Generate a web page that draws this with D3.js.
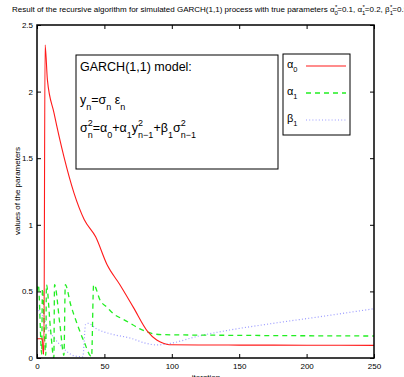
<!DOCTYPE html>
<html>
<head>
<meta charset="utf-8">
<script src="https://cdn.jsdelivr.net/npm/d3@7"></script>
<style>
  body { margin: 0; background: #fff; }
  svg { display: block; font-family: "Liberation Sans", Arial, Helvetica, sans-serif; }
</style>
</head>
<body>
<svg id="chart" width="404" height="377"></svg>
<script>
// values
var xTicks = [0, 50, 100, 150, 200, 250];
var yTicks = [0, 0.5, 1, 1.5, 2, 2.5];
var yTickLabels = ["0", "0.5", "1", "1.5", "2", "2.5"];

var alpha0Iter = [0, 4, 4.6, 5.1, 6, 7.7, 12.6, 20, 27.4, 35, 43.5, 52, 61.5, 71.5, 82, 88.8, 93.7, 98, 120, 150, 200, 250];
var alpha0Vals = [0.145, 0.145, 0.03, 0.03, 2.35, 2.09, 1.84, 1.51, 1.24, 1.04, 0.91, 0.7, 0.55, 0.38, 0.2, 0.135, 0.11, 0.1, 0.098, 0.097, 0.096, 0.095];

var alpha1Iter = [0, 1, 3.5, 4, 6.5, 7, 10, 12.5, 13, 17, 20, 21, 25, 30, 35, 40.5, 42, 47, 52, 57, 64, 71, 76, 82, 87, 95, 150, 250];
var alpha1Vals = [0.5, 0.55, 0.03, 0.52, 0.02, 0.55, 0.22, 0.0, 0.55, 0.25, 0.02, 0.55, 0.4, 0.25, 0.12, 0.01, 0.55, 0.43, 0.38, 0.33, 0.29, 0.25, 0.22, 0.195, 0.18, 0.175, 0.17, 0.165];

var beta1Iter = [0, 3, 5, 8, 12, 17, 22, 28, 34, 36, 38, 44, 55, 69, 81, 89, 99, 120, 143, 175, 210, 250];
var beta1Vals = [0.38, 0.33, 0.3, 0.22, 0.16, 0.1, 0.05, 0.015, 0.01, 0.25, 0.26, 0.22, 0.18, 0.15, 0.11, 0.098, 0.11, 0.165, 0.21, 0.26, 0.31, 0.37];

var svg = d3.select("#chart");
var pLeft = 37, pRight = 374, pTop = 25, pBottom = 358;

var x = d3.scaleLinear().domain([0, 250]).range([pLeft, pRight]);
var y = d3.scaleLinear().domain([0, 2.5]).range([pBottom, pTop]);

// title (runs off the right edge like the original)
var title = svg.append("text").attr("x", 12).attr("y", 12).attr("font-size", 8).attr("fill", "#000");
title.append("tspan").text("Result of the recursive algorithm for simulated GARCH(1,1) process with true parameters \u03b1");
title.append("tspan").attr("font-size", 6).attr("dy", 3).text("0");
title.append("tspan").attr("font-size", 6).attr("dy", -6).attr("dx", -3).text("*");
title.append("tspan").attr("dy", 3).text("=0.1, \u03b1");
title.append("tspan").attr("font-size", 6).attr("dy", 3).text("1");
title.append("tspan").attr("font-size", 6).attr("dy", -6).attr("dx", -3).text("*");
title.append("tspan").attr("dy", 3).text("=0.2, \u03b2");
title.append("tspan").attr("font-size", 6).attr("dy", 3).text("1");
title.append("tspan").attr("font-size", 6).attr("dy", -6).attr("dx", -3).text("*");
title.append("tspan").attr("dy", 3).text("=0.5");

// axes, ticks pointing inside
svg.append("g").attr("transform", "translate(0," + pBottom + ")")
    .call(d3.axisBottom(x).tickValues(xTicks).tickSize(-4).tickPadding(5).tickFormat(d3.format("d")));
svg.append("g").attr("transform", "translate(0," + pTop + ")")
    .call(d3.axisTop(x).tickValues(xTicks).tickSize(-4).tickFormat(""));
svg.append("g").attr("transform", "translate(" + pLeft + ",0)")
    .call(d3.axisLeft(y).tickValues(yTicks).tickSize(-4).tickPadding(4).tickFormat(function (d, i) { return yTickLabels[i] }));
svg.append("g").attr("transform", "translate(" + pRight + ",0)")
    .call(d3.axisRight(y).tickValues(yTicks).tickSize(-4).tickFormat(""));

svg.selectAll(".domain").remove();
svg.selectAll(".tick line").attr("stroke", "#000");
svg.selectAll(".tick text").attr("font-size", 8).attr("fill", "#000")
    .attr("font-family", "'Liberation Sans', Arial, Helvetica, sans-serif");

// labels
svg.append("text").attr("x", 206).attr("y", 380).attr("text-anchor", "middle")
    .attr("font-size", 8).text("iteration");
svg.append("text").attr("transform", "translate(20,191) rotate(-90)").attr("text-anchor", "middle")
    .attr("font-size", 8).text("values of the parameters");

// lines
svg.append("clipPath").attr("id", "plotclip").append("rect")
    .attr("x", pLeft).attr("y", pTop).attr("width", pRight - pLeft).attr("height", pBottom - pTop);
var plot = svg.append("g").attr("clip-path", "url(#plotclip)");

function makeSeries(iters, vals) {
    return iters.map(function (d, i) { return [d, vals[i]] });
}
var line = d3.line().curve(d3.curveMonotoneX)
    .x(function (d) { return x(d[0]) }).y(function (d) { return y(d[1]) });

plot.append("path").datum(makeSeries(beta1Iter, beta1Vals)).attr("d", line)
    .attr("fill", "none").attr("stroke", "#9a9aff").attr("stroke-width", 1.2).attr("stroke-dasharray", "1,2.2");
plot.append("path").datum(makeSeries(alpha1Iter, alpha1Vals)).attr("d", line)
    .attr("fill", "none").attr("stroke", "#22ee22").attr("stroke-width", 1.3).attr("stroke-dasharray", "5,4");
plot.append("path").datum(makeSeries(alpha0Iter, alpha0Vals)).attr("d", line)
    .attr("fill", "none").attr("stroke", "#ff1a1a").attr("stroke-width", 1.1);

// frame
svg.append("rect").attr("x", pLeft).attr("y", pTop).attr("width", pRight - pLeft).attr("height", pBottom - pTop)
    .attr("fill", "none").attr("stroke", "#000").attr("stroke-width", 1.5);

// model text box
var box = svg.append("g");
box.append("rect").attr("x", 76).attr("y", 55).attr("width", 202).attr("height", 114)
    .attr("fill", "#fff").attr("stroke", "#000").attr("stroke-width", 1);

function eqText(xPos, yPos, parts) {
    var t = box.append("text").attr("x", xPos).attr("y", yPos).attr("font-size", 12.5);
    var shift = 0;
    parts.forEach(function (p) {
        var s = t.append("tspan").text(p[0]);
        var target = p[1] === "sub" ? 6 : (p[1] === "sup" ? -6 : 0);
        if (p[1] === "sub" || p[1] === "sup") s.attr("font-size", 9);
        if (p[2]) s.attr("dx", p[2]);
        s.attr("dy", target - shift);
        shift = target;
    });
}
eqText(80, 71, [["GARCH(1,1) model:"]]);
eqText(80, 104, [["y"], ["n", "sub"], ["=\u03c3"], ["n", "sub"], [" \u03b5"], ["n", "sub"]]);
eqText(80, 132, [["\u03c3"], ["2", "sup"], ["n", "sub", -5], ["=\u03b1"], ["0", "sub"], ["+\u03b1"], ["1", "sub"], ["y"],
    ["2", "sup"], ["n\u22121", "sub", -5], ["+\u03b2"], ["1", "sub"], ["\u03c3"], ["2", "sup"], ["n\u22121", "sub", -5]]);

// legend
var legendNames = ["\u03b1", "\u03b1", "\u03b2"];
var legendSubs = ["0", "1", "1"];
var legendColors = ["#ff1a1a", "#22ee22", "#9a9aff"];
var legendDash = [null, "5,4", "1,2.2"];
var legendWidths = [1.1, 1.3, 1.2];

var lg = svg.append("g");
lg.append("rect").attr("x", 283).attr("y", 54).attr("width", 67).attr("height", 81)
    .attr("fill", "#fff").attr("stroke", "#000").attr("stroke-width", 1);
legendNames.forEach(function (n, i) {
    var ly = 66 + i * 27;
    var t = lg.append("text").attr("x", 287).attr("y", ly + 2).attr("font-size", 11);
    t.append("tspan").text(n);
    t.append("tspan").attr("font-size", 7.5).attr("dy", 4).text(legendSubs[i]);
    lg.append("line").attr("x1", 306).attr("x2", 346).attr("y1", ly).attr("y2", ly)
        .attr("stroke", legendColors[i]).attr("stroke-width", legendWidths[i])
        .attr("stroke-dasharray", legendDash[i]);
});
</script>
</body>
</html>
